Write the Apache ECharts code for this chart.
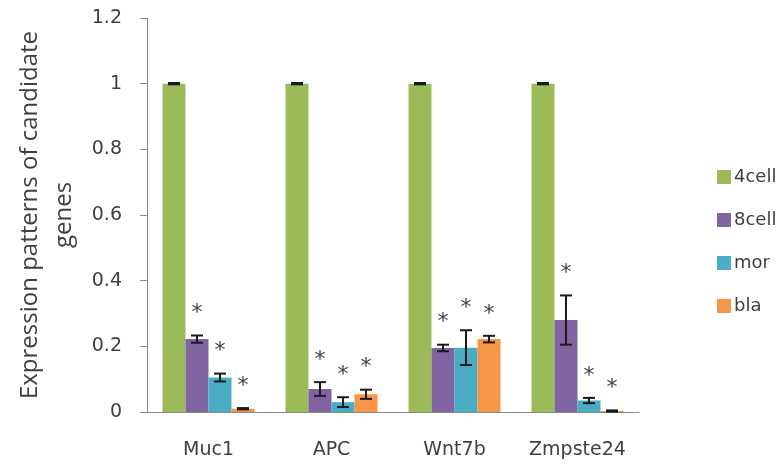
<!DOCTYPE html>
<html>
<head>
<meta charset="utf-8">
<script src="https://cdn.jsdelivr.net/npm/echarts@6/dist/echarts.min.js"></script>
<style>
  html, body { margin: 0; padding: 0; background: #fff; }
  #chart { width: 778px; height: 470px; }
</style>
</head>
<body>
<div id="chart"></div>
<script>
// data
const genes = ['Muc1', 'APC', 'Wnt7b', 'Zmpste24'];
const stages = ['4cell', '8cell', 'mor', 'bla'];
const cell4 = [1, 1, 1, 1];
const cell8 = [0.222, 0.07, 0.195, 0.28];
const mor = [0.105, 0.03, 0.196, 0.035];
const bla = [0.01, 0.054, 0.222, 0.003];
const cell4Err = [0.002, 0.002, 0.002, 0.002];
const cell8Err = [0.011, 0.021, 0.01, 0.075];
const morErr = [0.012, 0.015, 0.053, 0.008];
const blaErr = [0.002, 0.014, 0.01, 0.002];
// asterisk marks (1 = significant)
const cell8Star = [1, 1, 1, 1];
const morStar = [1, 1, 1, 1];
const blaStar = [1, 1, 1, 1];
const yTicks = ['0', '0.2', '0.4', '0.6', '0.8', '1', '1.2'];

const colors = ['#9bbb59', '#8064a2', '#4bacc6', '#f79646'];
const values = [cell4, cell8, mor, bla];
const errs = [cell4Err, cell8Err, morErr, blaErr];
const stars = [[0, 0, 0, 0], cell8Star, morStar, blaStar];
const barW = 23;

const myChart = echarts.init(document.getElementById('chart'));

const series = [];
values.forEach(function (vals, i) {
  series.push({
    name: stages[i],
    type: 'bar',
    data: vals,
    barWidth: barW,
    barGap: '0%',
    itemStyle: { color: colors[i] },
    z: 2
  });
});
// error bars + asterisks
values.forEach(function (vals, i) {
  series.push({
    type: 'custom',
    silent: true,
    z: 5,
    data: vals.map(function (v, k) { return [k, v, errs[i][k], stars[i][k]]; }),
    renderItem: function (params, api) {
      const c = api.value(0);
      const v = api.value(1);
      const e = api.value(2);
      const s = api.value(3);
      const base = api.coord([c, v]);
      const x = base[0] + (i - 1.5) * barW;
      const top = api.coord([c, v + e])[1];
      const bot = api.coord([c, v - e])[1];
      const cap = 6;
      const st = { stroke: '#1a1a1a', lineWidth: 2 };
      const children = [
        { type: 'line', shape: { x1: x, y1: top, x2: x, y2: bot }, style: st },
        { type: 'line', shape: { x1: x - cap, y1: top, x2: x + cap, y2: top }, style: st },
        { type: 'line', shape: { x1: x - cap, y1: bot, x2: x + cap, y2: bot }, style: st }
      ];
      if (s) {
        children.push({
          type: 'text',
          style: {
            x: x, y: top - 22, text: '*',
            fill: '#404040', font: '22px "DejaVu Sans"',
            align: 'center', verticalAlign: 'middle'
          }
        });
      }
      return { type: 'group', children: children };
    }
  });
});

const option = {
  animation: false,
  legend: {
    orient: 'vertical',
    left: 712,
    top: 163,
    itemWidth: 14,
    itemHeight: 14,
    itemGap: 25,
    itemStyle: { borderWidth: 0 },
    icon: 'rect',
    data: stages,
    textStyle: { fontSize: 18, color: '#404040', fontFamily: 'DejaVu Sans', padding: [0, 0, 0, -2] }
  },
  grid: { left: 147, right: 139, top: 18, bottom: 58 },
  xAxis: {
    type: 'category',
    data: genes,
    axisLine: { lineStyle: { color: '#868686' } },
    axisTick: { length: 7, lineStyle: { color: '#868686' } },
    axisLabel: { interval: 0, fontSize: 19, color: '#404040', margin: 29, fontFamily: 'DejaVu Sans' }
  },
  yAxis: {
    type: 'value',
    min: 0,
    max: 1.2,
    interval: 0.2,
    name: 'Expression patterns of candidate\ngenes',
    nameLocation: 'middle',
    nameGap: 66,
    nameTextStyle: { fontSize: 24, color: '#404040', lineHeight: 34, fontFamily: 'Open Sans' },
    axisLine: { show: true, lineStyle: { color: '#868686' } },
    axisTick: { show: true, length: 7, lineStyle: { color: '#868686' } },
    splitLine: { show: false },
    axisLabel: {
      fontSize: 19, color: '#404040', margin: 25, fontFamily: 'DejaVu Sans',
      formatter: function (v) { return yTicks[Math.round(v / 0.2)]; }
    }
  },
  series: series
};
myChart.setOption(option);
</script>
</body>
</html>
